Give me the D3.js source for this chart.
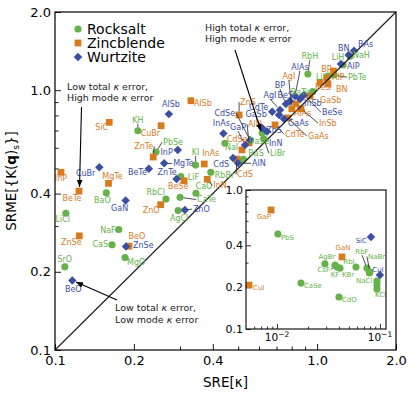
<!DOCTYPE html>
<html>
<head>
<meta charset="utf-8">
<script src="https://cdn.jsdelivr.net/npm/d3@7"></script>
<style>
body { margin: 0; background: #fff; }
text { font-family: "DejaVu Sans", sans-serif; }
</style>
</head>
<body>
<svg width="415" height="397"></svg>
<script>
// ---- data (SRE[kappa], SRME[{K(q)s}]) ----
const structures = ["Rocksalt", "Zincblende", "Wurtzite"];

const rocksalt = [
  ["KH",0.207,0.698],["PbSe",0.243,0.578],["KI",0.344,0.515],["LiF",0.302,0.465],
  ["RbBr",0.393,0.483],["CaO",0.345,0.401],["BaO",0.157,0.403],["RbCl",0.265,0.381],
  ["CaTe",0.300,0.387],["AgCl",0.295,0.344],["LiCl",0.110,0.336],["NaF",0.175,0.291],
  ["CaS",0.165,0.254],["MgO",0.185,0.227],["SrO",0.109,0.209],["NaI",0.445,0.625],
  ["BaS",0.523,0.542],["BaSe",0.617,0.684],["LiBr",0.627,0.648],["RbH",0.922,1.154],
  ["BaTe",0.962,0.987],["LiI",1.100,1.134],["PbTe",1.160,1.144],["LiH",1.256,1.250],
  ["NaH",1.335,1.351]
];
const zincblende = [
  ["SiC",0.161,0.752],["CuBr",0.254,0.730],["AlSb",0.330,0.911],["ZnTe",0.237,0.553],
  ["InAs",0.371,0.520],["BeSe",0.311,0.448],["InN",0.381,0.454],["InP",0.1054,0.483],
  ["MgTe",0.160,0.438],["BeTe",0.1235,0.409],["ZnO",0.253,0.3625],["ZnSe",0.1238,0.275],
  ["BeO",0.1915,0.251],["ZnS",0.504,0.803],["CdSe",0.517,0.589],["CdS",0.495,0.543],
  ["AlN",0.550,0.627],["CdTe",0.691,0.735],["GaAs",0.774,0.782],["AgI",0.801,0.848],
  ["AlAs",0.830,0.885],["InSb",0.868,0.848],["GaSb",0.940,0.950],["BeS",1.026,1.071],
  ["BN",1.100,1.057],["BP",1.155,1.185],["AlP",1.090,1.113]
];
const wurtzite = [
  ["AlSb",0.272,0.809],["InP",0.294,0.589],["MgTe",0.261,0.523],["CuBr",0.1476,0.505],
  ["BeTe",0.228,0.499],["ZnTe",0.291,0.455],["GaN",0.186,0.376],["ZnO",0.313,0.346],
  ["ZnSe",0.1866,0.250],["BeO",0.1164,0.185],["InAs",0.439,0.682],["GaP",0.531,0.615],
  ["CdS",0.478,0.548],["AlN",0.499,0.524],["CdSe",0.555,0.643],["GaSb",0.617,0.716],
  ["InN",0.644,0.694],["ZnS",0.716,0.803],["CdTe",0.674,0.826],["AgI",0.722,0.839],
  ["BP",0.760,0.885],["BeS",0.788,0.909],["AlAs",0.823,0.950],["GaAs",0.748,0.775],
  ["InSb",0.861,0.925],["BeSe",0.891,0.958],["AlP",1.233,1.261],["BN",1.320,1.366],
  ["BAs",1.383,1.420]
];

// inset: the low SRE corner
const insetRocksalt = [
  ["PbS",0.0102,0.482],["CaSe",0.0171,0.214],["CdO",0.040,0.170],["AgBr",0.0292,0.294],
  ["CsF",0.0366,0.288],["KF",0.0383,0.279],["KBr",0.0409,0.274],["RbI",0.0585,0.279],
  ["RbF",0.0748,0.274],["NaBr",0.080,0.257],["NaCl",0.079,0.253],
  ["",0.0935,0.221],["",0.0935,0.208],["KCl",0.0935,0.194]
];
const insetZincblende = [["GaP",0.00875,0.718],["CuI",0.00535,0.207],["GaN",0.0428,0.330]];
const insetWurtzite = [["SiC",0.0818,0.459],["CuI",0.100,0.245]];

const xTicks = [0.1, 0.2, 0.4, 1.0, 2.0];
const yTicks = [0.1, 0.2, 0.4, 1.0, 2.0];
const minorTicks = [0.3, 0.5, 0.6, 0.7, 0.8, 0.9];
const insetXTicks = [0.01, 0.1];
const insetXMinor = [0.006,0.007,0.008,0.009,0.02,0.03,0.04,0.05,0.06,0.07,0.08,0.09];
const insetYTicks = [0.1, 0.2, 0.4, 1.0];
const insetYMinor = [0.3, 0.5, 0.6, 0.7, 0.8, 0.9];

// ---- label placement: [dx, dy, anchor, leader] relative to the marker ----
const labelPos = {
  "r:KH":[0,-8,"middle",1],"r:PbSe":[7,-7,"start",1],"r:KI":[0,-10,"middle",1],"r:LiF":[7,3,"start"],
  "r:RbBr":[4,6,"start"],"r:CaO":[8,-4,"middle"],"r:BaO":[-4,10,"middle"],"r:RbCl":[-1,-4,"end"],
  "r:CaTe":[17,5,"start",1],"r:AgCl":[1,10,"middle"],"r:LiCl":[-3,9,"middle"],"r:NaF":[-3,4,"end"],
  "r:CaS":[-4,2,"end"],"r:MgO":[2,7,"start"],"r:SrO":[0,-5,"middle"],"r:NaI":[0,7,"start"],
  "r:BaS":[5,-3,"start"],"r:BaSe":[-3,11,"middle"],"r:LiBr":[6,17,"start",1],"r:RbH":[2,-15,"middle",1],
  "r:BaTe":[-3,3,"end"],"r:LiI":[-3,4,"end"],"r:PbTe":[14,5,"start",1],"r:LiH":[-5,-5,"middle"],
  "r:NaH":[3,2,"start"],
  "z:SiC":[-1,8,"end"],"z:CuBr":[-1,10,"end"],"z:AlSb":[3,5,"start"],"z:ZnTe":[0,-8,"end",1],
  "z:InAs":[-2,-8,"start"],"z:BeSe":[-6,8,"middle"],"z:InN":[6,9,"start",1],"z:InP":[0,9,"middle"],
  "z:MgTe":[4,-4,"middle"],"z:BeTe":[-7,10,"middle"],"z:ZnO":[-1,8,"end"],"z:ZnSe":[-8,9,"middle"],
  "z:BeO":[8,-7,"middle"],"z:ZnS":[1,-10,"start",1],"z:CdSe":[-5,-8,"middle"],"z:CdS":[0,18,"start",1],
  "z:AlN":[-1,-16,"start",1],"z:CdTe":[10,12,"start",1],"z:GaAs":[20,21,"start",1],"z:AgI":[-3,-30,"middle",1],
  "z:AlAs":[-2,12,"start"],"z:InSb":[18,17,"start",1],"z:GaSb":[10,7,"start"],"z:BeS":[-5,8,"start"],
  "z:BN":[8,8,"start"],"z:BP":[-2,1,"end"],"z:AlP":[5,2,"start"],
  "w:AlSb":[2,-7,"middle"],"w:InP":[-5,5,"end"],"w:MgTe":[9,3,"start",1],"w:CuBr":[-4,9,"end"],
  "w:BeTe":[-2,6,"end"],"w:ZnTe":[0,-4,"end"],"w:GaN":[-6,10,"middle"],"w:ZnO":[8,2,"start",1],
  "w:ZnSe":[7,1,"start"],"w:BeO":[1,11,"middle"],"w:InAs":[-2,-7,"middle"],"w:GaP":[-7,-15,"middle",1],
  "w:CdS":[-4,9,"end"],"w:AlN":[14,3,"start",1],"w:CdSe":[-15,-24,"end",1],"w:GaSb":[-6,-11,"middle",1],
  "w:InN":[2,15,"start"],"w:ZnS":[-5,18,"middle"],"w:CdTe":[-4,-2,"end"],"w:AgI":[-10,-12,"middle",1],
  "w:BP":[-6,-16,"middle",1],"w:BeS":[3,-3,"end"],"w:AlAs":[5,-26,"middle",1],"w:GaAs":[4,7,"start"],
  "w:InSb":[4,7,"start"],"w:BeSe":[18,20,"start",1],"w:AlP":[6,5,"start"],"w:BN":[-5,-4,"middle"],
  "w:BAs":[4,-4,"start"],
  "ir:PbS":[3,6,"start"],"ir:CaSe":[3,5,"start"],"ir:CdO":[3,5,"start"],"ir:AgBr":[2,-5,"middle"],
  "ir:CsF":[-5,7,"end",1],"ir:KF":[-2,10,"middle"],"ir:KBr":[2,9,"start"],"ir:RbI":[-7,-3,"middle"],
  "ir:RbF":[-5,-14,"middle",1],"ir:NaBr":[-2,-13,"start",1],"ir:NaCl":[3,10,"end"],"ir:KCl":[-2,8,"start"],
  "iz:GaP":[0,9,"end"],"iz:CuI":[4,5,"start"],"iz:GaN":[1,-7,"middle"],
  "iw:SiC":[-4,6,"end"],"iw:CuI":[-2,-3,"middle"]
};

const colors = { r: "#66b24a", z: "#d87a1e", w: "#3b4ea3" };
const shapes = {
  r: d3.symbol(d3.symbolCircle, 40),
  z: d3.symbol(d3.symbolSquare, 46),
  w: d3.symbol(d3.symbolSquare, 36)
};

var svg = d3.select("svg");

var x = d3.scaleLog().domain([0.1, 2.0]).range([55, 396]),
    y = d3.scaleLog().domain([0.1, 2.0]).range([350, 12]),
    ix = d3.scaleLog().domain([0.005, 0.1145]).range([246, 386]),
    iy = d3.scaleLog().domain([0.1, 1.0]).range([329, 190]);

svg.append("defs").append("marker")
  .attr("id", "head").attr("viewBox", "0 0 10 10")
  .attr("refX", 10).attr("refY", 5)
  .attr("markerWidth", 7).attr("markerHeight", 7)
  .attr("markerUnits", "userSpaceOnUse")
  .attr("orient", "auto")
  .append("path").attr("d", "M0,1L10,5L0,9Z").attr("fill", "#000");

function drawMarks(g, data, kind, sx, sy) {
  g.append("g").selectAll("path").data(data).enter().append("path")
    .attr("d", shapes[kind])
    .attr("fill", colors[kind])
    .attr("transform", d => "translate(" + sx(d[1]) + "," + sy(d[2]) + ")" + (kind == "w" ? " rotate(45)" : ""));
}

function drawLabels(g, data, kind, sx, sy, prefix, fs) {
  data.forEach(function(d) {
    var p = labelPos[prefix + kind + ":" + d[0]];
    if (!p || !d[0]) return;
    var px = sx(d[1]), py = sy(d[2]);
    var lx = px + p[0], ly = py + p[1];
    if (p[3]) {
      var ex = p[2] == "start" ? lx - 1 : (p[2] == "end" ? lx + 1 : lx);
      var ey = ly - fs * 0.35;
      if (p[2] == "middle") ey = p[1] < 0 ? ly + 1 : ly - fs;
      var len = Math.hypot(ex - px, ey - py);
      if (len > 5) {
        g.append("line")
          .attr("x1", px + (ex - px) * 3.5 / len).attr("y1", py + (ey - py) * 3.5 / len)
          .attr("x2", ex).attr("y2", ey)
          .attr("stroke", "#222").attr("stroke-width", 0.8);
      }
    }
    g.append("text").attr("x", lx).attr("y", ly)
      .attr("text-anchor", p[2])
      .attr("font-size", fs)
      .attr("fill", colors[kind])
      .text(d[0]);
  });
}

// ---- main axes ----
var main = svg.append("g");

var xAxis = d3.axisBottom(x).tickValues(xTicks).tickFormat(d3.format(".1f")).tickSize(-6).tickPadding(6);
var xMinor = d3.axisBottom(x).tickValues(minorTicks).tickFormat("").tickSize(-3.5);
var yAxis = d3.axisLeft(y).tickValues(yTicks).tickFormat(d3.format(".1f")).tickSize(-6).tickPadding(4);
var yMinor = d3.axisLeft(y).tickValues(minorTicks).tickFormat("").tickSize(-3.5);

[[xAxis, "translate(0,350)"], [xMinor, "translate(0,350)"], [yAxis, "translate(55,0)"], [yMinor, "translate(55,0)"]]
  .forEach(function(a) {
    var ga = main.append("g").attr("transform", a[1]).call(a[0]);
    ga.select(".domain").remove();
    ga.selectAll("line").attr("stroke", "#000").attr("stroke-width", 0.9);
    ga.selectAll("text").attr("font-size", 13).attr("fill", "#000").attr("font-family", "DejaVu Sans");
  });

main.append("text").attr("x", 225.5).attr("y", 387).attr("text-anchor", "middle")
  .attr("font-size", 13.5).text("SRE[κ]");

var yl = main.append("text").attr("transform", "translate(16,181) rotate(-90)")
  .attr("text-anchor", "middle").attr("font-size", 13.5);
yl.append("tspan").text("SRME[{K(");
yl.append("tspan").attr("font-weight", "bold").text("q");
yl.append("tspan").text(")");
yl.append("tspan").attr("font-size", 9).attr("dy", 3).text("s");
yl.append("tspan").attr("dy", -3).text("}]");

// points, then the y = x line on top, then labels
drawMarks(main, rocksalt, "r", x, y);
drawMarks(main, zincblende, "z", x, y);
drawMarks(main, wurtzite, "w", x, y);

main.append("line")
  .attr("x1", x(0.1)).attr("y1", y(0.1)).attr("x2", x(2.0)).attr("y2", y(2.0))
  .attr("stroke", "#222").attr("stroke-width", 1.2);

drawLabels(main, rocksalt, "r", x, y, "", 8);
drawLabels(main, zincblende, "z", x, y, "", 8);
drawLabels(main, wurtzite, "w", x, y, "", 8);

main.append("rect").attr("x", 55).attr("y", 12).attr("width", 341).attr("height", 338)
  .attr("fill", "none").attr("stroke", "#000").attr("stroke-width", 1.2);

// ---- annotations ----
function note(tx, ty, lines, from, to) {
  lines.forEach(function(l, i) {
    var t = main.append("text").attr("x", tx).attr("y", ty + i * 11.8)
      .attr("font-size", 9.5).attr("fill", "#222");
    t.append("tspan").text(l[0]);
    t.append("tspan").attr("font-style", "italic").text("κ");
    t.append("tspan").text(l[1]);
  });
  main.append("line").attr("x1", from[0]).attr("y1", from[1]).attr("x2", to[0]).attr("y2", to[1])
    .attr("stroke", "#000").attr("stroke-width", 1.1).attr("marker-end", "url(#head)");
}
note(67, 89.5, [["Low total ", " error,"], ["High mode ", " error"]], [81.5, 107], [79.5, 187]);
note(205, 30.5, [["High total ", " error,"], ["High mode ", " error"]], [235, 50], [261, 131]);
note(115, 311, [["Low total ", " error,"], ["Low mode ", " error"]], [117, 300], [76, 282]);

// ---- legend ----
var leg = main.append("g");
structures.forEach(function(s, i) {
  var k = ["r", "z", "w"][i];
  leg.append("path").attr("d", shapes[k]).attr("fill", colors[k])
    .attr("transform", "translate(78," + (29 + i * 14) + ")" + (k == "w" ? " rotate(45)" : ""));
  leg.append("text").attr("x", 87).attr("y", 34 + i * 14).attr("font-size", 14).text(s);
});

// ---- inset ----
var ins = svg.append("g");
ins.append("rect").attr("x", 246).attr("y", 190).attr("width", 140).attr("height", 139)
  .attr("fill", "#fff");

var ixAxis = d3.axisBottom(ix).tickValues(insetXTicks).tickFormat("").tickSize(-5).tickPadding(3);
var ixMinor = d3.axisBottom(ix).tickValues(insetXMinor).tickFormat("").tickSize(-2.5);
var iyAxis = d3.axisLeft(iy).tickValues(insetYTicks).tickFormat(d3.format(".1f")).tickSize(-5).tickPadding(3);
var iyMinor = d3.axisLeft(iy).tickValues(insetYMinor).tickFormat("").tickSize(-2.5);

[[ixAxis, "translate(0,329)"], [ixMinor, "translate(0,329)"], [iyAxis, "translate(246,0)"], [iyMinor, "translate(246,0)"]]
  .forEach(function(a) {
    var ga = ins.append("g").attr("transform", a[1]).call(a[0]);
    ga.select(".domain").remove();
    ga.selectAll("line").attr("stroke", "#000").attr("stroke-width", 0.8);
    ga.selectAll("text").attr("font-size", 11).attr("fill", "#000").attr("font-family", "DejaVu Sans");
  });

insetXTicks.forEach(function(v) {
  var t = ins.append("text").attr("x", ix(v)).attr("y", 341).attr("text-anchor", "middle")
    .attr("font-size", 10.5);
  t.append("tspan").text("10");
  t.append("tspan").attr("dy", -4.5).attr("font-size", 7.5).text("−" + Math.round(-Math.log10(v)));
});

drawMarks(ins, insetRocksalt, "r", ix, iy);
drawMarks(ins, insetZincblende, "z", ix, iy);
drawMarks(ins, insetWurtzite, "w", ix, iy);
drawLabels(ins, insetRocksalt, "r", ix, iy, "i", 7);
drawLabels(ins, insetZincblende, "z", ix, iy, "i", 7);
drawLabels(ins, insetWurtzite, "w", ix, iy, "i", 7);

ins.append("rect").attr("x", 246).attr("y", 190).attr("width", 140).attr("height", 139)
  .attr("fill", "none").attr("stroke", "#000").attr("stroke-width", 1.1);
</script>
</body>
</html>
